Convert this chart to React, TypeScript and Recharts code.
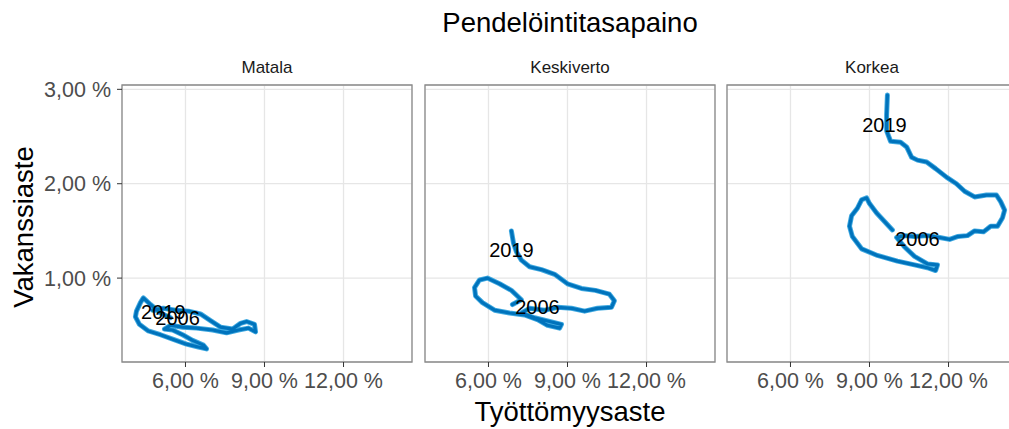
import {
  ScatterChart,
  Scatter,
  XAxis,
  YAxis,
  CartesianGrid,
  ReferenceArea,
  ReferenceDot,
} from 'recharts';

const FONT = '"Liberation Sans", Arial, sans-serif';

const X_DOMAIN: [number, number] = [3.59, 14.6];
const Y_DOMAIN: [number, number] = [0.111, 3.046];
const X_TICKS = [6, 9, 12];
const Y_TICKS = [1, 2, 3];

const PANELS = ['Matala', 'Keskiverto', 'Korkea'];
const YEARS = ['2006', '2019'];

// Työttömyysaste (x) and vakanssiaste (y), in %
const matalaX = [5.43, 5.05, 4.67, 4.4, 4.29, 4.14, 4.1, 4.25, 4.59, 5.05, 5.54, 6.04, 6.49, 6.8, 6.68, 6.27, 5.89, 5.51, 5.2, 5.43, 5.89, 6.42, 7.03, 7.56, 8.01, 8.39, 8.66, 8.62, 8.32, 8.09, 7.79, 7.33, 6.95, 6.57, 6.11, 5.62, 5.16, 4.75];
const matalaY = [0.58, 0.63, 0.72, 0.79, 0.74, 0.65, 0.59, 0.51, 0.44, 0.4, 0.35, 0.3, 0.27, 0.25, 0.29, 0.34, 0.4, 0.45, 0.46, 0.5, 0.48, 0.47, 0.45, 0.42, 0.45, 0.47, 0.43, 0.51, 0.54, 0.52, 0.46, 0.48, 0.55, 0.62, 0.65, 0.66, 0.68, 0.66];

const keskiX = [6.91, 7.25, 6.87, 6.42, 5.96, 5.66, 5.47, 5.51, 5.77, 6.23, 6.8, 7.37, 7.86, 8.24, 8.7, 8.77, 8.32, 7.75, 7.25, 7.56, 8.13, 8.62, 9.15, 9.65, 10.14, 10.67, 10.78, 10.59, 10.06, 9.53, 9.0, 8.51, 8.01, 7.56, 7.25, 7.06, 6.95, 6.87];
const keskiY = [0.72, 0.77, 0.87, 0.94, 1.0, 0.98, 0.9, 0.81, 0.74, 0.66, 0.63, 0.61, 0.56, 0.5, 0.47, 0.51, 0.54, 0.58, 0.63, 0.68, 0.66, 0.69, 0.68, 0.65, 0.68, 0.69, 0.76, 0.83, 0.87, 0.89, 0.94, 1.04, 1.09, 1.12, 1.19, 1.28, 1.37, 1.5];

const korkeaX = [9.87, 9.57, 9.27, 9.0, 8.89, 8.7, 8.54, 8.32, 8.24, 8.35, 8.7, 9.3, 10.06, 10.71, 11.2, 11.51, 11.58, 11.2, 10.71, 10.33, 10.03, 10.33, 10.71, 11.2, 11.66, 12.04, 12.34, 12.72, 12.99, 13.33, 13.6, 13.86, 14.05, 14.13, 13.98, 13.82, 13.44, 12.99, 12.61, 12.3, 11.92, 11.51, 11.17, 10.82, 10.6, 10.41, 10.18, 9.8, 9.65, 9.65, 9.68];
const korkeaY = [1.51, 1.6, 1.69, 1.79, 1.85, 1.83, 1.74, 1.66, 1.55, 1.44, 1.31, 1.24, 1.18, 1.14, 1.11, 1.08, 1.14, 1.15, 1.23, 1.33, 1.43, 1.45, 1.44, 1.45, 1.43, 1.41, 1.44, 1.45, 1.5, 1.49, 1.55, 1.55, 1.64, 1.72, 1.81, 1.88, 1.88, 1.86, 1.92, 2.0, 2.07, 2.16, 2.23, 2.25, 2.28, 2.39, 2.44, 2.45, 2.56, 2.73, 2.94];

// year label positions [2006, 2019]
const matalaLabelX = [5.7, 5.16];
const matalaLabelY = [0.58, 0.64];
const keskiLabelX = [7.86, 6.87];
const keskiLabelY = [0.7, 1.3];
const korkeaLabelX = [10.82, 9.57];
const korkeaLabelY = [1.42, 2.62];

const zip = (xs: number[], ys: number[]) => xs.map((x, i) => ({ x, y: ys[i] }));

const series = [
  { path: zip(matalaX, matalaY), labels: zip(matalaLabelX, matalaLabelY) },
  { path: zip(keskiX, keskiY), labels: zip(keskiLabelX, keskiLabelY) },
  { path: zip(korkeaX, korkeaY), labels: zip(korkeaLabelX, korkeaLabelY) },
];

const fmt = (v: number) => v.toFixed(2).replace('.', ',') + ' %';

const tickStyle = { fill: '#4d4d4d', fontSize: 21.5, fontFamily: FONT };

const TOP = 12;

function Panel({ index }: { index: number }) {
  const first = index === 0;
  const { path, labels } = series[index];
  return (
    <ScatterChart
      width={first ? 414 : 294}
      height={TOP + 277 + 67}
      margin={{ top: TOP, right: 2, bottom: 0, left: first ? 0 : 2 }}
    >
      <CartesianGrid stroke="#e6e6e6" strokeWidth={1.3} />
      <XAxis
        type="number"
        dataKey="x"
        domain={X_DOMAIN}
        ticks={X_TICKS}
        allowDataOverflow
        tickFormatter={fmt}
        tick={tickStyle}
        tickLine={{ stroke: '#333' }}
        tickSize={5}
        tickMargin={6}
        axisLine={false}
        height={67}
        interval={0}
      />
      <YAxis
        type="number"
        dataKey="y"
        domain={Y_DOMAIN}
        ticks={Y_TICKS}
        allowDataOverflow
        hide={!first}
        width={122}
        tickFormatter={fmt}
        tick={tickStyle}
        tickLine={{ stroke: '#333' }}
        tickSize={5}
        tickMargin={6}
        axisLine={false}
        interval={0}
      />
      <ReferenceArea
        x1={X_DOMAIN[0]}
        x2={X_DOMAIN[1]}
        y1={Y_DOMAIN[0]}
        y2={Y_DOMAIN[1]}
        fill="none"
        stroke="#8a8a8a"
        strokeWidth={1.3}
      />
      <Scatter
        data={path}
        line={{ stroke: '#3fa9e0', strokeWidth: 5, strokeLinejoin: 'round', strokeLinecap: 'round' }}
        lineType="joint"
        lineJointType="linear"
        shape={() => <g />}
        isAnimationActive={false}
      />
      <Scatter
        data={path}
        line={{ stroke: '#0073bc', strokeWidth: 3.2, strokeLinejoin: 'round', strokeLinecap: 'round' }}
        lineType="joint"
        lineJointType="linear"
        shape={() => <g />}
        isAnimationActive={false}
      />
      {labels.map((p, i) => (
        <ReferenceDot
          key={YEARS[i]}
          x={p.x}
          y={p.y}
          r={1}
          fill="none"
          stroke="none"
          label={{ value: YEARS[i], position: 'center', fill: '#000', fontSize: 20, fontFamily: FONT }}
        />
      ))}
    </ScatterChart>
  );
}

export default function App() {
  const lefts = [0, 423, 725];
  const centers = [267, 570, 872];
  return (
    <div
      style={{
        position: 'absolute',
        left: 0,
        top: 0,
        width: 1009,
        height: 429,
        overflow: 'hidden',
        background: '#fff',
        fontFamily: FONT,
      }}
    >
      {PANELS.map((name, i) => (
        <div key={name} style={{ position: 'absolute', left: lefts[i], top: 85 - TOP }}>
          <Panel index={i} />
        </div>
      ))}
      <svg
        width={1009}
        height={429}
        style={{ position: 'absolute', left: 0, top: 0, pointerEvents: 'none' }}
        fontFamily={FONT}
      >
        <text x={570} y={32} textAnchor="middle" fontSize={27.5} fill="#000">
          Pendelöintitasapaino
        </text>
        {PANELS.map((name, i) => (
          <text key={name} x={centers[i]} y={73} textAnchor="middle" fontSize={17} fill="#1a1a1a">
            {name}
          </text>
        ))}
        <text x={570} y={421} textAnchor="middle" fontSize={27.5} fill="#000">
          Työttömyysaste
        </text>
        <text transform="translate(33,227) rotate(-90)" textAnchor="middle" fontSize={27.5} fill="#000">
          Vakanssiaste
        </text>
      </svg>
    </div>
  );
}
